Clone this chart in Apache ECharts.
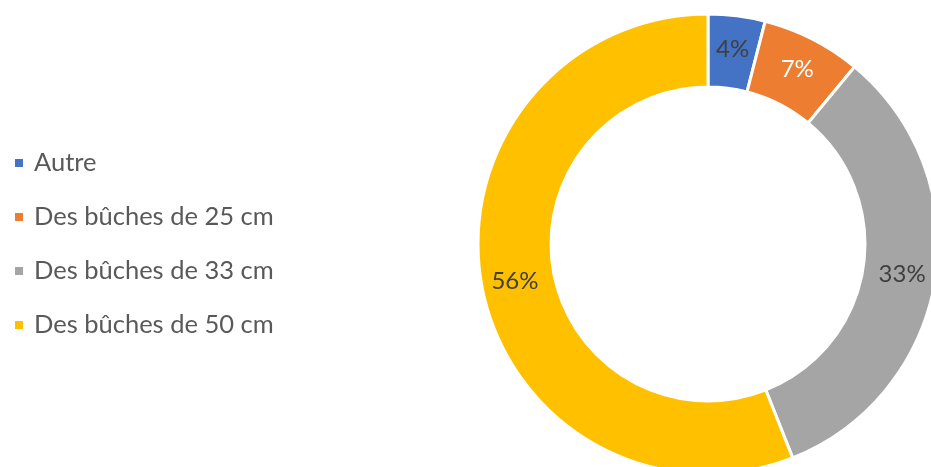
<!DOCTYPE html>
<html><head><meta charset="utf-8">
<script src="https://cdn.jsdelivr.net/npm/echarts@6/dist/echarts.min.js"></script>
<style>html,body{margin:0;padding:0;background:#fff}#c{width:931px;height:467px}</style>
</head><body><div id="c"></div>
<script>
const categories = ['Autre', 'Des bûches de 25 cm', 'Des bûches de 33 cm', 'Des bûches de 50 cm'];
const values = [4, 7, 33, 56];
const colors = ['#4472C4', '#ED7D31', '#A5A5A5', '#FFC000'];
const labelColors = ['#404040', '#FFFFFF', '#404040', '#404040'];

const chart = echarts.init(document.getElementById('c'), null, {renderer: 'canvas'});
chart.setOption({
  animation: false,
  legend: {
    orient: 'vertical',
    left: 8,
    top: 145,
    itemWidth: 10,
    itemHeight: 10,
    itemGap: 28,
    icon: 'rect',
    textStyle: {fontFamily: 'Lato', fontSize: 25.5, lineHeight: 25, color: '#595959', padding: [0, 0, 0, 5]},
    data: categories
  },
  series: [{
    type: 'pie',
    center: [708, 244],
    radius: [157, 230],
    startAngle: 90,
    clockwise: true,
    avoidLabelOverlap: false,
    itemStyle: {borderColor: '#fff', borderWidth: 3},
    label: {
      show: true,
      position: 'inside',
      fontFamily: 'Lato',
      fontSize: 24,
      formatter: p => p.value + '%'
    },
    labelLine: {show: false},
    emphasis: {disabled: true},
    data: categories.map((n, i) => ({
      name: n, value: values[i],
      itemStyle: {color: colors[i]},
      label: {color: labelColors[i]}
    }))
  }]
});
</script></body></html>
